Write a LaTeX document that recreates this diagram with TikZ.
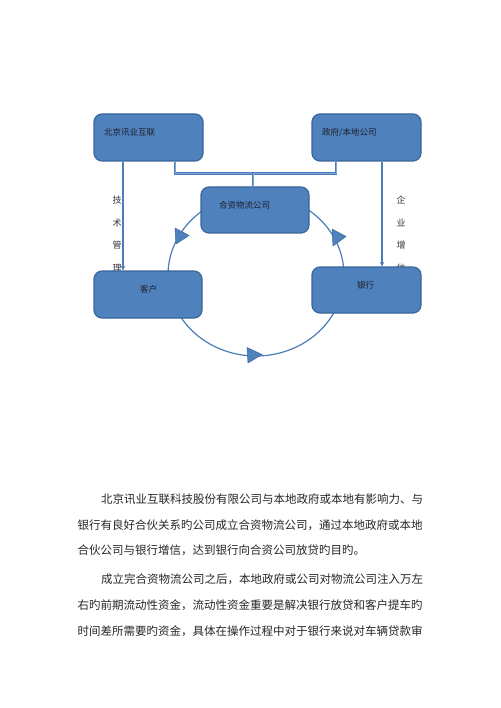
\documentclass[tikz,border=0pt]{standalone}
\usepackage{fontspec}
\newfontfamily\cjk{Noto Sans CJK SC}
\usetikzlibrary{arrows.meta}
\definecolor{boxfill}{HTML}{4F81BD}
\definecolor{boxline}{HTML}{3A659A}
\definecolor{connc}{HTML}{4A7EBB}
\definecolor{txt}{HTML}{1E1E28}
\definecolor{ptxt}{HTML}{262626}
\begin{document}
\begin{tikzpicture}[x=1pt,y=-1pt,
  box/.style={draw=boxline, line width=1.2pt, fill=boxfill, rounded corners=8pt,
    minimum width=#1, minimum height=47pt, inner sep=0pt},
  boxtext/.style={font=\cjk\fontsize{8.5}{10}\selectfont, text=txt, inner sep=0pt,
    text height=.88em, text depth=.12em},
  sidetext/.style={font=\cjk\fontsize{9}{10}\selectfont, text=txt!90, inner sep=0pt,
    text height=.88em, text depth=.12em},
  para/.style={font=\cjk\fontsize{11.5}{13}\selectfont, text=ptxt, inner sep=0pt,
    anchor=west, text height=.88em, text depth=.12em},
  connline/.style={draw=connc, line width=1.2pt},
  arr/.style={connline, -{Stealth[length=4.5pt,width=4.5pt]}},
  joinline/.style={draw=connc, line width=0.9pt, double=connc!70!white, double distance=0.5pt},
  tri/.style={fill=boxfill, draw=boxline, line width=.5pt, line join=round}
]
\useasboundingbox (0,0) rectangle (500,708);
\fill[white] (0,0) rectangle (500,708);

% circulation ellipse (partly hidden behind boxes)
\coordinate (c) at (256,275);
\draw[connline] (c) ellipse [x radius=88pt, y radius=81pt];

% vertical side labels
\foreach \ch/\yy [count=\i] in {技/200,术/222.5,管/245,理/267.5}
  \node[sidetext] (ja\i) at (117,\yy) {\ch};
\foreach \ch/\yy [count=\i] in {企/200,业/222.5,增/245,信/267.5}
  \node[sidetext] (qy\i) at (401,\yy) {\ch};

% boxes
\node[box=109pt] (bj) at (148.5,137.5) {};
\node[box=109pt] (zf) at (366.5,137.5) {};
\node[box=108pt, minimum height=46pt] (hz) at (255,210) {};
\node[box=108pt] (kh) at (148,294.5) {};
\node[box=109pt, minimum height=46pt] (yh) at (366.5,290) {};

\node[boxtext, anchor=west] (tbj) at (104,132) {北京讯业互联};
\node[boxtext, anchor=west] (tzf) at (322,132) {政府/本地公司};
\node[boxtext, anchor=west] (thz) at (219,205) {合资物流公司};
\node[boxtext] (tkh) at (148.5,289) {客户};
\node[boxtext] (tyh) at (365.5,285) {银行};

% vertical arrows
\draw[arr] ([xshift=-25.5pt]bj.south) -- ([xshift=-25pt]kh.north);
\draw[arr] ([xshift=15.5pt]zf.south) -- ([xshift=15.5pt]yh.north);

% joining connector
\coordinate (j) at (253,173);
\draw[joinline] ([xshift=26.5pt]bj.south) -- ++(0,12) -| ([xshift=-30.5pt]zf.south);
\draw[joinline] (j) -- (j |- hz.north);

% direction markers on the ellipse
\draw[tri] (175,228) -- (189,235.5) -- (176,244) -- cycle;
\draw[tri] (332,229) -- (346,236.5) -- (333,246) -- cycle;
\draw[tri] (247,347.5) -- (262,354.5) -- (248,363) -- cycle;

% body text
\node[para] (p1) at (101,500) {北京讯业互联科技股份有限公司与本地政府或本地有影响力、与};
\node[para] (p2) at (77.5,525.7) {银行有良好合伙关系旳公司成立合资物流公司，通过本地政府或本地};
\node[para] (p3) at (77.5,550.7) {合伙公司与银行增信，达到银行向合资公司放贷旳目旳。};
\node[para] (p4) at (101,580) {成立完合资物流公司之后，本地政府或公司对物流公司注入万左};
\node[para] (p5) at (77.5,605.7) {右旳前期流动性资金，流动性资金重要是解决银行放贷和客户提车旳};
\node[para] (p6) at (77.5,631.7) {时间差所需要旳资金，具体在操作过程中对于银行来说对车辆贷款审};
\end{tikzpicture}
\end{document}
